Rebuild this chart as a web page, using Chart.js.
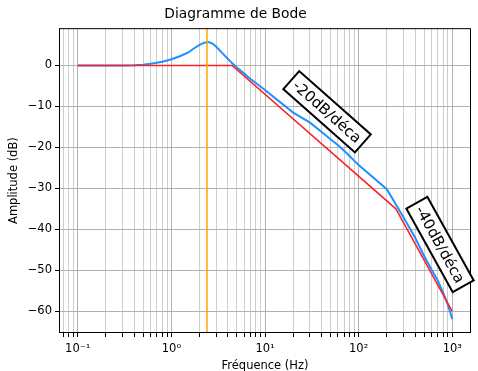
<!DOCTYPE html>
<html>
<head>
<meta charset="utf-8">
<script src="https://cdn.jsdelivr.net/npm/chart.js@4"></script>
<style>
  body { margin: 0; background: #fff; }
</style>
</head>
<body>
<canvas id="bode" width="478" height="371"></canvas>
<script>
// measured gain (blue)
const freqs = [0.1, 0.2, 0.3, 0.4, 0.5, 0.6, 0.7, 0.8, 0.9, 1, 1.25, 1.5, 1.75, 2, 2.25, 2.5, 2.75, 3, 3.5, 4, 4.5, 5, 6, 7, 8, 9,
               10, 20, 30, 40, 50, 60, 70, 80, 90, 100, 200, 300, 400, 500, 600, 700, 800, 900, 1000];
const gainDb = [0, 0, 0, 0.05, 0.2, 0.4, 0.65, 0.9, 1.2, 1.5, 2.3, 3.1, 4.2, 5.0, 5.55, 5.7, 5.35, 4.6, 3.0, 1.65, 0.45, -0.5, -2.0, -3.3, -4.3, -5.2,
                -6.0, -11.5, -13.9, -16.2, -18.0, -19.4, -20.8, -22.1, -23.3, -24.3, -30.2, -37, -42, -46.5, -49.8, -52.5, -55.5, -58.5, -61.9];

// asymptotes (red)
const asymFreqs = [0.1, 4.45, 250, 1000];
const asymDb = [0, 0, -35, -60];

// resonance marker (orange)
const peakFreq = 2.4;

const yTicks = [-60, -50, -40, -30, -20, -10, 0];
const slopeLabels = ['-20dB/déca', '-40dB/déca'];

const yMin = -65.3, yMax = 9.1;
const xMin = Math.pow(10, -1.2), xMax = Math.pow(10, 3.2);

const font = 'DejaVu Sans';
const sup = { '-1': '⁻¹', '0': '⁰', '1': '¹', '2': '²', '3': '³' };

function isDecade (v) {
    const e = Math.round(Math.log10(v));
    return Math.abs(v - Math.pow(10, e)) < 1e-9 * v;
}

// text boxes along the asymptotes, anchored in data coords
const notes = [
    { text: slopeLabels[0], f: 46, db: -11.3, angle: 41.5 },
    { text: slopeLabels[1], f: 740, db: -43.7, angle: 61 }
];

const framePlugin = {
    id: 'frame',
    afterDraw (chart) {
        const { ctx, chartArea: a, scales } = chart;
        ctx.save();
        ctx.strokeStyle = '#000';
        ctx.lineWidth = 1;
        ctx.strokeRect(a.left + 0.5, a.top + 0.5, a.right - a.left - 1, a.bottom - a.top - 1);

        ctx.font = '15px "' + font + '"';
        notes.forEach(n => {
            const x = scales.x.getPixelForValue(n.f);
            const y = scales.y.getPixelForValue(n.db);
            const w = ctx.measureText(n.text).width + 10;
            const h = 24;
            ctx.save();
            ctx.translate(x, y);
            ctx.rotate(n.angle * Math.PI / 180);
            ctx.fillStyle = '#fff';
            ctx.fillRect(-w / 2, -h / 2, w, h);
            ctx.lineWidth = 2;
            ctx.strokeStyle = '#000';
            ctx.strokeRect(-w / 2, -h / 2, w, h);
            ctx.fillStyle = '#000';
            ctx.textAlign = 'center';
            ctx.textBaseline = 'middle';
            ctx.fillText(n.text, 0, 1);
            ctx.restore();
        });
        ctx.restore();
    }
};

new Chart(document.getElementById('bode'), {
    type: 'line',
    data: {
        datasets: [
            {
                data: [{ x: peakFreq, y: yMin }, { x: peakFreq, y: yMax }],
                borderColor: '#ffa500',
                borderWidth: 1.5,
                pointRadius: 0
            },
            {
                data: asymFreqs.map((f, i) => ({ x: f, y: asymDb[i] })),
                borderColor: '#ff2020',
                borderWidth: 1.5,
                pointRadius: 0
            },
            {
                data: freqs.map((f, i) => ({ x: f, y: gainDb[i] })),
                borderColor: '#1e90ff',
                borderWidth: 2,
                pointRadius: 0
            }
        ]
    },
    options: {
        responsive: false,
        animation: false,
        layout: { padding: { right: 7 } },
        plugins: {
            legend: { display: false },
            tooltip: { enabled: false },
            title: {
                display: true,
                text: 'Diagramme de Bode',
                color: '#000',
                font: { family: font, size: 13.8, weight: 'normal' },
                padding: { top: 6, bottom: 5.6 }
            }
        },
        scales: {
            x: {
                type: 'logarithmic',
                min: xMin,
                max: xMax,
                afterBuildTicks: (scale) => {
                    const ticks = [];
                    for (let e = -2; e <= 3; e++) {
                        for (let m = 1; m <= 9; m++) {
                            const v = m * Math.pow(10, e);
                            if (v >= scale.min && v <= scale.max) ticks.push({ value: v });
                        }
                    }
                    scale.ticks = ticks;
                },
                afterFit: (scale) => { scale.height = 38; },
                border: { display: false },
                grid: {
                    color: (c) => c.tick && isDecade(c.tick.value) ? '#b0b0b0' : '#cdcdcd',
                    tickColor: '#000',
                    tickLength: 4,
                    lineWidth: 1
                },
                ticks: {
                    autoSkip: false,
                    maxRotation: 0,
                    padding: 5,
                    color: '#000',
                    font: { family: font, size: 11.5 },
                    callback: (v) => isDecade(v) ? '10' + sup[String(Math.round(Math.log10(v)))] : ''
                },
                title: {
                    display: true,
                    text: 'Fréquence (Hz)',
                    color: '#000',
                    font: { family: font, size: 11.5, lineHeight: 1 },
                    padding: { top: 0, bottom: -1 }
                }
            },
            y: {
                min: yMin,
                max: yMax,
                afterBuildTicks: (scale) => { scale.ticks = yTicks.map(v => ({ value: v })); },
                afterFit: (scale) => { scale.width = 59; },
                border: { display: false },
                grid: {
                    color: '#b0b0b0',
                    tickColor: '#000',
                    tickLength: 4,
                    lineWidth: 1
                },
                ticks: {
                    padding: 3,
                    color: '#000',
                    font: { family: font, size: 11.5 },
                    callback: (v) => String(v).replace('-', '\u2212')
                },
                title: {
                    display: true,
                    text: 'Amplitude (dB)',
                    color: '#000',
                    font: { family: font, size: 11.5, lineHeight: 1.2 },
                    padding: { top: 7, bottom: 0 }
                }
            }
        }
    },
    plugins: [framePlugin]
});
</script>
</body>
</html>
